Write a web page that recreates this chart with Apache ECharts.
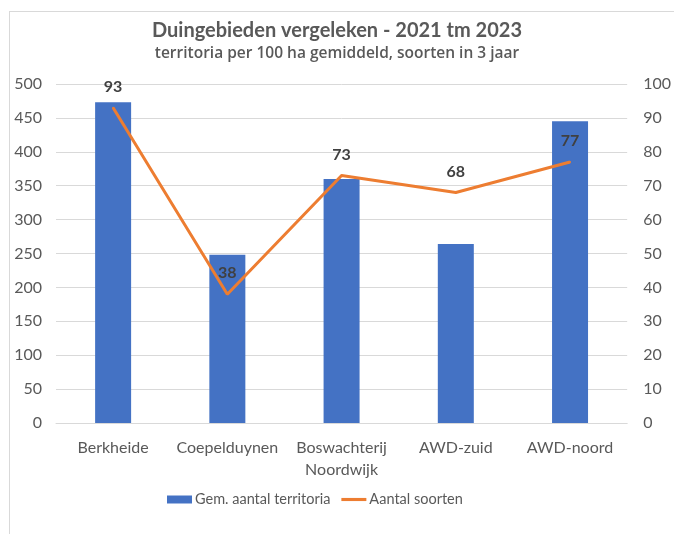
<!DOCTYPE html>
<html>
<head>
<meta charset="utf-8">
<script src="https://cdn.jsdelivr.net/npm/echarts@6/dist/echarts.min.js"></script>
<style>
html,body{margin:0;padding:0;background:#fff;}
#frame{position:absolute;left:9px;top:11px;width:665px;height:523px;border-left:1px solid #d9d9d9;border-top:1px solid #d9d9d9;}
#c{position:absolute;left:0;top:0;width:674px;height:534px;}
</style>
</head>
<body>
<div id="frame"></div>
<div id="c"></div>
<script>
const categories = ['Berkheide', 'Coepelduynen', 'Boswachterij\nNoordwijk', 'AWD-zuid', 'AWD-noord'];
const territoria = [473, 248, 360, 264, 445];
const soorten = [93, 38, 73, 68, 77];
const leftTicks = {min: 0, max: 500, interval: 50};
const rightTicks = {min: 0, max: 100, interval: 10};

const FONT = 'Lato, "Open Sans", sans-serif';
const chart = echarts.init(document.getElementById('c'));
chart.setOption({
  animation: false,
  textStyle: {fontFamily: FONT},
  title: {
    text: 'Duingebieden vergeleken - 2021 tm 2023',
    subtext: 'territoria per 100 ha gemiddeld, soorten in 3 jaar',
    left: 'center', top: 16, itemGap: 5,
    textStyle: {fontFamily: FONT, fontSize: 20, fontWeight: 'bold', color: '#595959'},
    subtextStyle: {fontFamily: '"Open Sans", sans-serif', fontSize: 15.5, fontWeight: 600, color: '#595959'}
  },
  legend: {
    bottom: 22, left: 162, itemGap: 11,
    itemWidth: 25, itemHeight: 8,
    textStyle: {fontFamily: FONT, fontSize: 14.5, color: '#595959', padding: [0, 0, 0, -2]},
    data: [
      {name: 'Gem. aantal territoria', icon: 'rect'},
      {name: 'Aantal soorten', icon: 'path://M0,0 L24,0 L24,3 L0,3 Z'}
    ]
  },
  grid: {left: 56, right: 38, top: 84, bottom: 111},
  xAxis: {
    type: 'category', data: categories,
    axisLine: {lineStyle: {color: '#d9d9d9'}},
    axisTick: {show: false},
    axisLabel: {fontFamily: FONT, fontSize: 16, color: '#595959', margin: 14, lineHeight: 22, interval: 0}
  },
  yAxis: [
    {type: 'value', min: leftTicks.min, max: leftTicks.max, interval: leftTicks.interval,
     axisLine: {show: false}, axisTick: {show: false},
     splitLine: {lineStyle: {color: '#d9d9d9'}},
     axisLabel: {fontFamily: FONT, fontSize: 16, color: '#595959', margin: 14}},
    {type: 'value', min: rightTicks.min, max: rightTicks.max, interval: rightTicks.interval,
     axisLine: {show: false}, axisTick: {show: false}, splitLine: {show: false},
     axisLabel: {fontFamily: FONT, fontSize: 16, color: '#595959', margin: 16}}
  ],
  series: [
    {name: 'Gem. aantal territoria', type: 'bar', data: territoria, barWidth: 36,
     itemStyle: {color: '#4472c4'}},
    {name: 'Aantal soorten', type: 'line', yAxisIndex: 1, data: soorten,
     symbol: 'circle', symbolSize: 2, showSymbol: true,
     lineStyle: {color: '#ed7d31', width: 3}, itemStyle: {color: '#ed7d31'},
     label: {show: true, position: 'top', distance: 12, fontFamily: FONT, fontSize: 16, fontWeight: 'bold', color: '#404040'}}
  ]
});
</script>
</body>
</html>
